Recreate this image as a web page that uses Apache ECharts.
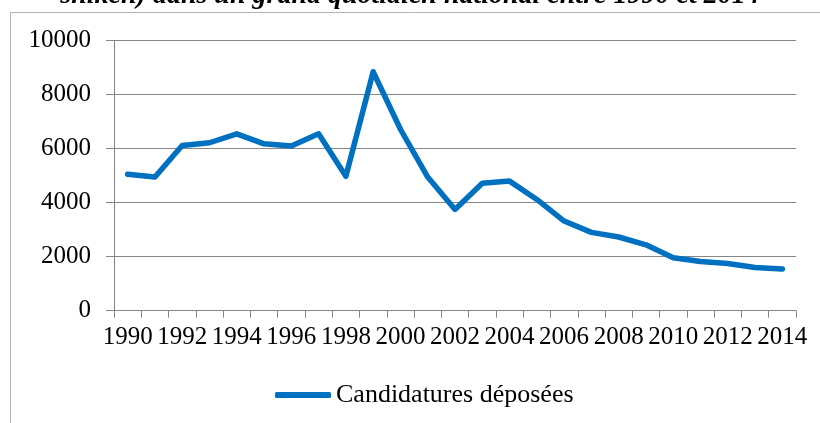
<!DOCTYPE html>
<html>
<head>
<meta charset="utf-8">
<script src="https://cdn.jsdelivr.net/npm/echarts@6/dist/echarts.min.js"></script>
<style>
  html, body { margin: 0; padding: 0; background: #fff; }
  #main { width: 820px; height: 423px; }
</style>
</head>
<body>
<div id="main"></div>
<script>
// années et candidatures
const years = ['1990', '1991', '1992', '1993', '1994', '1995', '1996', '1997', '1998', '1999',
  '2000', '2001', '2002', '2003', '2004', '2005', '2006', '2007', '2008', '2009',
  '2010', '2011', '2012', '2013', '2014'];
const candidatures = [5050, 4950, 6120, 6220, 6550, 6180, 6100, 6550, 4980, 8850,
  6720, 4950, 3750, 4720, 4800, 4120, 3320, 2900, 2730, 2440,
  1960, 1820, 1750, 1600, 1540];
const yTicks = [0, 2000, 4000, 6000, 8000, 10000];

const titleText = 'shiken) dans un grand quotidien national entre 1990 et 2014';
const seriesName = 'Candidatures déposées';

var chartDom = document.getElementById('main');
var myChart = echarts.init(chartDom);
var option;

const serif = 'Liberation Serif, Times New Roman, serif';

option = {
  animation: false,
  title: {
    text: titleText,
    left: 'center',
    top: -18,
    padding: 0,
    textStyle: {
      fontFamily: serif,
      fontSize: 28,
      fontStyle: 'italic',
      fontWeight: 'bold',
      color: '#000'
    }
  },
  graphic: [
    {
      type: 'rect',
      shape: { x: 10.5, y: 12.5, width: 830, height: 430 },
      style: { fill: 'none', stroke: '#b4b4b4', lineWidth: 1 },
      silent: true
    }
  ],
  legend: {
    bottom: 15,
    left: 275,
    padding: 0,
    icon: 'roundRect',
    itemWidth: 56,
    itemHeight: 6,
    textStyle: {
      fontFamily: serif,
      fontSize: 26,
      color: '#000'
    },
    data: [seriesName]
  },
  grid: {
    left: 114,
    right: 24,
    top: 40.7,
    bottom: 112.3,
    containLabel: false
  },
  xAxis: {
    type: 'category',
    data: years,
    boundaryGap: true,
    axisLine: { lineStyle: { color: '#868686', width: 1 } },
    axisTick: { show: true, interval: 0, length: 7, lineStyle: { color: '#868686' } },
    axisLabel: {
      interval: 1,
      margin: 14,
      fontFamily: serif,
      fontSize: 25,
      color: '#000'
    },
    splitLine: { show: false }
  },
  yAxis: {
    type: 'value',
    min: yTicks[0],
    max: yTicks[yTicks.length - 1],
    interval: 2000,
    axisLine: { show: true, lineStyle: { color: '#868686', width: 1 } },
    axisTick: { show: true, length: 8, lineStyle: { color: '#868686' } },
    axisLabel: {
      margin: 23,
      fontFamily: serif,
      fontSize: 25,
      color: '#000',
      formatter: function (v) { return String(v); }
    },
    splitLine: { show: true, lineStyle: { color: '#868686', width: 1 } }
  },
  series: [
    {
      name: seriesName,
      type: 'line',
      data: candidatures,
      symbol: 'none',
      smooth: false,
      color: '#0070C0',
      lineStyle: { width: 5.5, color: '#0070C0', cap: 'round', join: 'round' }
    }
  ]
};

option && myChart.setOption(option);
</script>
</body>
</html>
